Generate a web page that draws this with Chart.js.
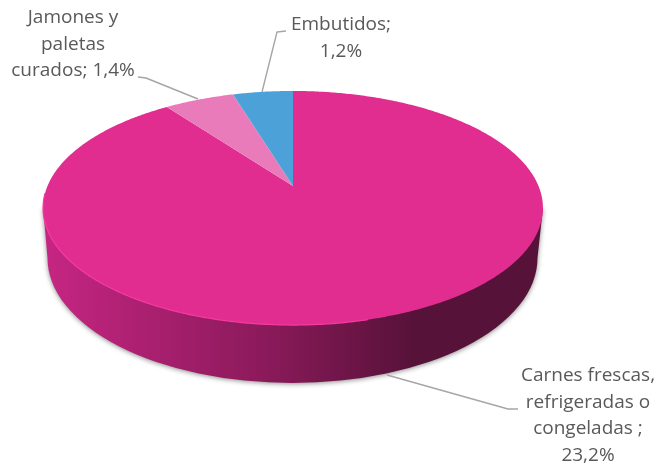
<!DOCTYPE html>
<html><head><meta charset="utf-8">
<style>html,body{margin:0;padding:0;background:#fff}canvas{display:block}</style>
<script src="https://cdn.jsdelivr.net/npm/chart.js@4"></script></head>
<body><canvas id="c" width="658" height="465"></canvas>
<script>
const categories = ['Carnes frescas, refrigeradas o congeladas', 'Jamones y paletas curados', 'Embutidos'];
const values = [23.2, 1.4, 1.2];
const sliceColors = ['#E12D8F', '#EA7BBA', '#4CA1D9'];
const labelLines = [
  ['Carnes frescas,', 'refrigeradas o', 'congeladas ;', '23,2%'],
  ['Jamones y', 'paletas', 'curados; 1,4%'],
  ['Embutidos;', '1,2%']
];
// layout
const labelAnchors = [{x:588,y:376},{x:73,y:18},{x:341,y:25}];
const leaders = [
  [[387,375],[508,409],[518,409]],
  [[138,77],[146,78],[198,99]],
  [[286,31],[277,32],[262,92]]
];
const P = {cx:293, cy:186, X:245.5, Y:112.9, k:-0.188};
const B = {cx:292.5, cy:258, rx:245, ry:125};
function proj(a){
  const u=Math.cos(a), v=Math.sin(a), w=1+P.k*v;
  return [P.cx+P.X*u/w, P.cy+P.Y*v/w];
}
function arcPath(ctx,s,e,apex){
  ctx.beginPath();
  if(apex) ctx.moveTo(P.cx,P.cy);
  const n=Math.max(4,Math.ceil((e-s)/0.01));
  for(let i=0;i<=n;i++){const p=proj(s+(e-s)*i/n); ctx.lineTo(p[0],p[1]);}
  if(apex) ctx.closePath();
}
const pie3d = {
  id:'pie3d',
  beforeDatasetDraw(chart,args){
    const ctx=chart.ctx;
    // side wall
    ctx.save();
    const g=ctx.createLinearGradient(43,0,543,0);
    g.addColorStop(0,'#C62683'); g.addColorStop(0.2,'#AB2070');
    g.addColorStop(0.45,'#8A1A5A'); g.addColorStop(0.62,'#6C1546');
    g.addColorStop(0.74,'#57123A'); g.addColorStop(1,'#57123A');
    ctx.shadowColor='rgba(0,0,0,0.45)'; ctx.shadowBlur=5; ctx.shadowOffsetY=1;
    ctx.fillStyle=g;
    ctx.beginPath();
    ctx.ellipse(B.cx,B.cy,B.rx,B.ry,0,0,Math.PI);
    const L=proj(Math.PI-0.19), R=proj(0.19);
    ctx.lineTo(L[0],L[1]); ctx.lineTo(R[0],R[1]); ctx.closePath();
    ctx.fill();
    ctx.restore();
    // top face, geometry taken from the library's arc elements
    ctx.save();
    args.meta.data.forEach((el,i)=>{
      const p=el.getProps(['startAngle','endAngle'],true);
      arcPath(ctx,p.startAngle,p.endAngle,true);
      ctx.fillStyle=sliceColors[i];
      ctx.fill();
    });
    arcPath(ctx,Math.PI*0.42,Math.PI*0.98,false);
    ctx.strokeStyle='#F73AA2'; ctx.lineWidth=1.2; ctx.stroke();
    ctx.restore();
    return false;
  },
  afterDraw(chart){
    const ctx=chart.ctx;
    ctx.save();
    ctx.strokeStyle='#A6A6A6'; ctx.lineWidth=1.4; ctx.lineJoin='round';
    leaders.forEach(l=>{ctx.beginPath();l.forEach((p,i)=>i?ctx.lineTo(p[0],p[1]):ctx.moveTo(p[0],p[1]));ctx.stroke();});
    ctx.fillStyle='#595959'; ctx.font='19px "Open Sans"'; ctx.textAlign='center'; ctx.textBaseline='middle';
    labelLines.forEach((lines,i)=>lines.forEach((t,j)=>ctx.fillText(t,labelAnchors[i].x,labelAnchors[i].y+j*26.5)));
    ctx.restore();
  }
};
new Chart(document.getElementById('c'),{
  type:'pie',
  data:{labels:categories,datasets:[{data:values,backgroundColor:sliceColors,borderWidth:0}]},
  options:{responsive:false,animation:false,plugins:{legend:{display:false},tooltip:{enabled:false}}},
  plugins:[pie3d]
});
</script></body></html>
